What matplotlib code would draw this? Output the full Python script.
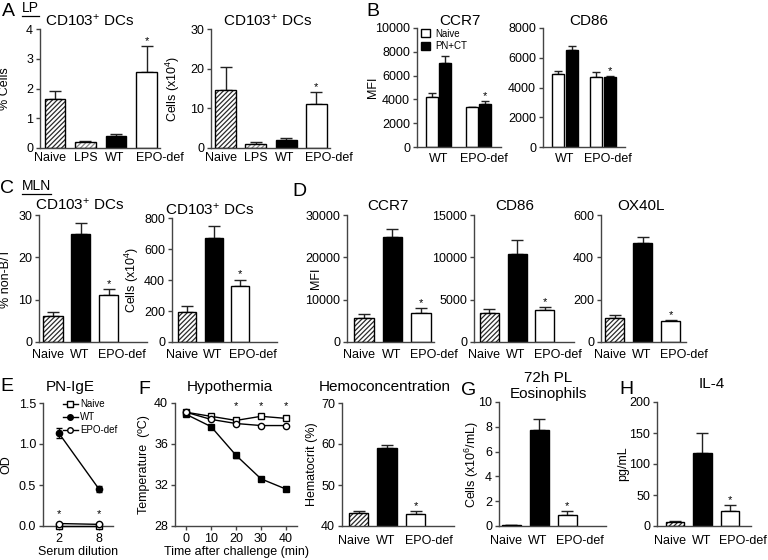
import matplotlib
matplotlib.use("Agg")
import matplotlib.pyplot as plt
from matplotlib import font_manager as fm
from matplotlib.patches import Patch
from matplotlib.lines import Line2D
import numpy as np

# keep the regular-width Liberation Sans
fm.fontManager.ttflist = [f for f in fm.fontManager.ttflist if 'Narrow' not in f.fname]

plt.rcParams['font.family'] = ['Liberation Sans', 'DejaVu Sans']
plt.rcParams['mathtext.fontset'] = 'custom'
plt.rcParams['mathtext.rm'] = 'Liberation Sans'
plt.rcParams['mathtext.it'] = 'Liberation Sans:italic'
plt.rcParams['hatch.linewidth'] = 0.9

# --- values ---
groups_lp = ['Naive', 'LPS', 'WT', 'EPO-def']
lp_pct = [1.64, 0.21, 0.42, 2.54]
lp_pct_err = [0.28, 0.04, 0.06, 0.89]
lp_cells = [14.5, 1.1, 2.1, 11.1]
lp_cells_err = [6.0, 0.45, 0.4, 2.9]

groups_b = ['WT', 'EPO-def']
ccr7_naive = [4170, 3320]
ccr7_naive_err = [390, 60]
ccr7_pnct = [7100, 3580]
ccr7_pnct_err = [560, 280]
cd86_naive = [4910, 4730]
cd86_naive_err = [200, 290]
cd86_pnct = [6530, 4730]
cd86_pnct_err = [230, 40]

groups = ['Naive', 'WT', 'EPO-def']
mln_pct = [6.2, 25.6, 11.2]
mln_pct_err = [0.9, 2.4, 1.4]
mln_cells = [193, 673, 360]
mln_cells_err = [37, 77, 43]
mln_ccr7 = [5760, 24800, 6800]
mln_ccr7_err = [950, 1900, 1300]
mln_cd86 = [3480, 10380, 3750]
mln_cd86_err = [470, 1700, 370]
mln_ox40l = [114, 466, 101]
mln_ox40l_err = [15, 28, 4]

dilutions = ['2', '8']
ige_naive = [0.0, 0.0]
ige_wt = [1.13, 0.45]
ige_wt_err = [0.06, 0.04]
ige_epo = [0.03, 0.02]

times = [0, 10, 20, 30, 40]
temp_naive = [39.1, 38.7, 38.3, 38.7, 38.5]
temp_wt = [38.9, 37.7, 34.9, 32.6, 31.6]
temp_wt_err = [0.1, 0.12, 0.25, 0.2, 0.2]
temp_epo = [39.1, 38.4, 38.0, 37.8, 37.8]

hct = [43.1, 59.0, 42.9]
hct_err = [0.6, 0.8, 0.8]
eos = [0.05, 7.76, 0.92]
eos_err = [0.02, 0.87, 0.27]
il4 = [6.5, 118, 24]
il4_err = [1.5, 32, 10]

# --- look of each group ---
FILLS = {
    'Naive': dict(color='white', hatch='///////', hatch_color='#2a2a2a'),
    'LPS': dict(color='white', hatch='///////', hatch_color='#8a8a8a'),
    'WT': dict(color='black', hatch=None, hatch_color=None),
    'EPO-def': dict(color='white', hatch=None, hatch_color=None),
}
# category labels in the original sit a little off their bars (pixels)
LABEL_SHIFT = {'Naive': -5, 'LPS': 0, 'WT': -1, 'EPO-def': 13}
AXIS_COLOR = '#444444'
PT = 0.72  # points per pixel at dpi 100

W, H = 768, 560
fig = plt.figure(figsize=(W / 100, H / 100), dpi=100)


def add_ax(x0, x1, ytop, ybot):
    # axes box given in pixels of the 768x560 canvas
    return fig.add_axes([x0 / W, 1 - ybot / H, (x1 - x0) / W, (ybot - ytop) / H])


def style(ax, box, ylim, yticks, ylabel, label_px, title=None, title_px=None, pad=0,
          xticks=False):
    for s in ['top', 'right']:
        ax.spines[s].set_visible(False)
    for s in ['left', 'bottom']:
        ax.spines[s].set_color(AXIS_COLOR)
        ax.spines[s].set_linewidth(1.0)
    ax.set_ylim(*ylim)
    ax.set_yticks(yticks)
    ax.tick_params(axis='y', length=3, width=1, color=AXIS_COLOR, labelsize=9, pad=2)
    ax.tick_params(axis='x', length=3 if xticks else 0, width=1, color=AXIS_COLOR,
                   labelsize=9, pad=2)
    ax.set_ylabel(ylabel, fontsize=9)
    ax.yaxis.set_label_coords((label_px - box[0]) / (box[1] - box[0]), 0.5)
    if title:
        ax.set_title(title, fontsize=11, pad=pad)
        if title_px is not None:
            ax.title.set_x((title_px - box[0]) / (box[1] - box[0]))


def cat_labels(ax, xs, names, shift, dy=7):
    ax.set_xticks(xs)
    ax.set_xticklabels([])
    for x, n in zip(xs, names):
        ax.annotate(n, (x, 0), xycoords=ax.get_xaxis_transform(),
                    xytext=(shift.get(n, 0) * PT, -dy * PT), textcoords='offset points',
                    ha='center', va='top', fontsize=9)


def star(ax, x, y):
    ax.annotate('*', (x, y), xytext=(0, 0), textcoords='offset points',
                ha='center', va='bottom', fontsize=8)


def bars(ax, xs, names, vals, errs, width, stars=(), dy=7):
    for x, n, v, e in zip(xs, names, vals, errs):
        f = FILLS[n]
        ax.errorbar([x], [v], yerr=[[0], [e]], fmt='none', ecolor='#222222',
                    elinewidth=1, capsize=4, capthick=1, zorder=1)
        if f['hatch']:
            ax.bar(x, v, width, color=f['color'], hatch=f['hatch'],
                   edgecolor=f['hatch_color'], linewidth=0, zorder=2)
            ax.bar(x, v, width, fill=False, edgecolor='black', linewidth=1, zorder=3)
        else:
            ax.bar(x, v, width, color=f['color'], edgecolor='black', linewidth=1, zorder=2)
    for i in stars:
        star(ax, xs[i], vals[i] + errs[i])
    cat_labels(ax, xs, names, LABEL_SHIFT, dy)


# ---------------- A: LP ----------------
box = (40, 160, 29, 148)
ax = add_ax(*box)
bars(ax, np.arange(4), groups_lp, lp_pct, lp_pct_err, 0.66, stars=[3], dy=4)
ax.set_xlim(-0.49, 3.44)
style(ax, box, (0, 4), [0, 1, 2, 3, 4], '% Cells', 11, 'CD103$^{+}$ DCs', 90, pad=0)

box = (211, 330, 29, 148)
ax = add_ax(*box)
bars(ax, np.arange(4), groups_lp, lp_cells, lp_cells_err, 0.69, stars=[3], dy=4)
ax.set_xlim(-0.48, 3.45)
style(ax, box, (0, 30), [0, 10, 20, 30], 'Cells (x10$^{4}$)', 182, 'CD103$^{+}$ DCs', 268,
      pad=0)

# ---------------- B: LP CCR7 / CD86 ----------------
def paired(ax, naive, naive_err, pnct, pnct_err, off, width, stars=()):
    x = np.arange(len(groups_b))
    for xs, v, e, col in [(x - off, naive, naive_err, 'white'),
                          (x + off, pnct, pnct_err, 'black')]:
        ax.errorbar(xs, v, yerr=[np.zeros(len(v)), e], fmt='none', ecolor='#222222',
                    elinewidth=1, capsize=3, capthick=1, zorder=1)
        ax.bar(xs, v, width, color=col, edgecolor='black', linewidth=1, zorder=2)
    for i in stars:
        star(ax, x[i] + off, pnct[i] + pnct_err[i])
    cat_labels(ax, x, groups_b, {'EPO-def': 5}, dy=6)


box = (417, 501, 28, 147)
ax = add_ax(*box)
paired(ax, ccr7_naive, ccr7_naive_err, ccr7_pnct, ccr7_pnct_err, 0.17, 0.3, stars=[1])
ax.set_xlim(-0.54, 1.56)
style(ax, box, (0, 10000), range(0, 10001, 2000), 'MFI', 379, 'CCR7', 460, pad=0.5)
ax.legend(handles=[Patch(facecolor='white', edgecolor='black', label='Naive'),
                   Patch(facecolor='black', edgecolor='black', label='PN+CT')],
          loc='upper left', bbox_to_anchor=(0.03, 1.01), frameon=False, fontsize=7,
          handlelength=0.9, handleheight=0.9, handletextpad=0.5, labelspacing=0.25,
          borderaxespad=0, borderpad=0.2)

box = (543, 625, 28, 147)
ax = add_ax(*box)
paired(ax, cd86_naive, cd86_naive_err, cd86_pnct, cd86_pnct_err, 0.18, 0.32, stars=[1])
ax.set_xlim(-0.58, 1.58)
style(ax, box, (0, 8000), range(0, 8001, 2000), '', 505, 'CD86', 589, pad=0.5)

# ---------------- C: MLN CD103+ DCs ----------------
box = (39, 147, 215, 342)
ax = add_ax(*box)
bars(ax, np.arange(3), groups, mln_pct, mln_pct_err, 0.68, stars=[2])
ax.set_xlim(-0.5, 3.36)
style(ax, box, (0, 30), [0, 10, 20, 30], '% non-B/T', 12, 'CD103$^{+}$ DCs', 80, pad=3.6)

box = (172, 277, 218, 342)
ax = add_ax(*box)
bars(ax, np.arange(3), groups, mln_cells, mln_cells_err, 0.68, stars=[2])
ax.set_xlim(-0.57, 3.4)
style(ax, box, (0, 800), range(0, 801, 200), 'Cells (x10$^{4}$)', 141, 'CD103$^{+}$ DCs',
      210, pad=1.3)

# ---------------- D: MLN CCR7 / CD86 / OX40L ----------------
box = (347, 434, 215, 342)
ax = add_ax(*box)
bars(ax, np.arange(3), groups, mln_ccr7, mln_ccr7_err, 0.68, stars=[2])
ax.set_xlim(-0.6, 2.46)
style(ax, box, (0, 30000), range(0, 30001, 10000), 'MFI', 322, 'CCR7', 388, pad=3.6)

box = (474, 574, 215, 342)
ax = add_ax(*box)
bars(ax, np.arange(3), groups, mln_cd86, mln_cd86_err, 0.68, stars=[2])
ax.set_xlim(-0.54, 3.04)
style(ax, box, (0, 15000), range(0, 15001, 5000), '', 430, 'CD86', 515, pad=3.6)

box = (601, 686, 215, 342)
ax = add_ax(*box)
bars(ax, np.arange(3), groups, mln_ox40l, mln_ox40l_err, 0.68, stars=[2])
ax.set_xlim(-0.5, 2.54)
style(ax, box, (0, 600), range(0, 601, 200), '', 560, 'OX40L', 641, pad=3.6)

# ---------------- E: PN-IgE ----------------
box = (43, 113, 403, 526)
ax = add_ax(*box)
xe = np.arange(len(dilutions))
ax.plot(xe, ige_naive, '-', color='black', lw=1, marker='s', ms=4.5,
        mfc='white', mec='black', mew=1, zorder=3, clip_on=False)
ax.errorbar(xe, ige_wt, yerr=ige_wt_err, fmt='-o', color='black', lw=1, ms=4.5,
            capsize=2.5, elinewidth=1, zorder=3)
ax.plot(xe, ige_epo, '-', color='black', lw=1, marker='o', ms=4.5,
        mfc='white', mec='black', mew=1, zorder=4, clip_on=False)
for x in xe:
    star(ax, x, 0.09)
ax.set_xticks(xe)
ax.set_xticklabels(dilutions)
ax.set_xlim(-0.4, 1.35)
style(ax, box, (0, 1.5), [0, 0.5, 1.0, 1.5], 'OD', 12, 'PN-IgE', 70, pad=8.6, xticks=True)
ax.set_yticklabels(['0.0', '0.5', '1.0', '1.5'])
ax.set_xlabel('Serum dilution', fontsize=9, labelpad=1)
ax.legend(handles=[Line2D([], [], color='black', lw=1, marker='s', ms=4, mfc='white', label='Naive'),
                   Line2D([], [], color='black', lw=1, marker='o', ms=4, label='WT'),
                   Line2D([], [], color='black', lw=1, marker='o', ms=4, mfc='white', label='EPO-def')],
          loc='upper left', bbox_to_anchor=(0.28, 1.03), frameon=False, fontsize=7,
          handlelength=1.6, handletextpad=0.2, labelspacing=0.3, borderaxespad=0, borderpad=0)

# ---------------- F: Hypothermia / Hemoconcentration ----------------
box = (175, 297, 403, 526)
ax = add_ax(*box)
ax.plot(times, temp_naive, '-', color='black', lw=1, marker='s', ms=4.5,
        mfc='white', mec='black', mew=1, zorder=3)
ax.errorbar(times, temp_wt, yerr=temp_wt_err, fmt='-s', color='black', lw=1, ms=4.5,
            capsize=2.5, elinewidth=1, zorder=3)
ax.plot(times, temp_epo, '-', color='black', lw=1, marker='o', ms=4.5,
        mfc='white', mec='black', mew=1, zorder=4)
for t in times[2:]:
    star(ax, t, 39.2)
ax.set_xticks(times)
ax.set_xlim(-4.4, 44.4)
style(ax, box, (28, 40), [28, 32, 36, 40], 'Temperature  (\u00baC)', 150, 'Hypothermia', 230,
      pad=8.6, xticks=True)
ax.set_xlabel('Time after challenge (min)', fontsize=9, labelpad=1)

box = (342, 454, 403, 526)
ax = add_ax(*box)
bars(ax, np.arange(3), groups, hct, hct_err, 0.68, stars=[2], dy=9)
ax.set_xlim(-0.58, 3.35)
style(ax, box, (40, 70), [40, 50, 60, 70], 'Hematocrit (%)', 318, 'Hemoconcentration', 385,
      pad=8.6)

# ---------------- G: eosinophils ----------------
box = (499, 606, 402, 526)
ax = add_ax(*box)
bars(ax, np.arange(3), groups, eos, eos_err, 0.68, stars=[2], dy=9)
ax.set_xlim(-0.43, 3.39)
style(ax, box, (0, 10), [0, 2, 4, 6, 8, 10], 'Cells (x10$^{6}$/mL)', 481,
      '72h PL\nEosinophils', 548, pad=3)

# ---------------- H: IL-4 ----------------
box = (657, 751, 402, 526)
ax = add_ax(*box)
bars(ax, np.arange(3), groups, il4, il4_err, 0.68, stars=[2], dy=9)
ax.set_xlim(-0.65, 2.76)
style(ax, box, (0, 200), [0, 50, 100, 150, 200], 'pg/mL', 629, 'IL-4', 712, pad=10)

# ---------------- panel letters ----------------
letters = [('A', 2, 16), ('B', 366, 16), ('C', 0, 193), ('D', 292, 196),
           ('E', 0, 391), ('F', 138, 394), ('G', 461, 395), ('H', 619, 394)]
for s, x, y in letters:
    fig.text(x / W, 1 - y / H, s, fontsize=14, va='baseline', ha='left')

fig.canvas.draw()
for s, x, y in [('LP', 22, 12), ('MLN', 22, 190)]:
    t = fig.text(x / W, 1 - y / H, s, fontsize=10, va='baseline', ha='left')
    bb = t.get_window_extent(renderer=fig.canvas.get_renderer())
    fig.add_artist(Line2D([bb.x0 / W, bb.x1 / W], [(bb.y0 - 0.5) / H] * 2,
                          color='black', lw=0.9, transform=fig.transFigure))

fig.savefig('out.png', dpi=100)
